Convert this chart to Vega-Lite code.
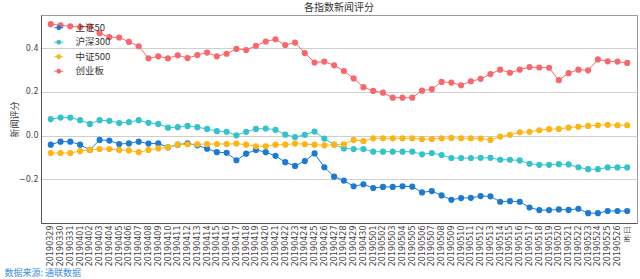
{
  "$schema": "https://vega.github.io/schema/vega-lite/v6.json",
  "width": 596,
  "height": 208,
  "padding": {"left": 41, "top": 15, "right": 3, "bottom": 56},
  "autosize": "none",
  "background": "white",
  "title": {"text": "各指数新闻评分", "fontSize": 10, "font": "Noto Sans CJK SC", "fontWeight": "normal", "color": "#333", "offset": 2, "anchor": "middle"},
  "config": {
    "view": {"stroke": "#999", "strokeWidth": 1},
    "font": "DejaVu Sans",
    "axis": {"labelFont": "DejaVu Sans", "labelColor": "#444", "titleFont": "Noto Sans CJK SC", "titleFontWeight": "normal"}
  },
  "data": {"values": [
{"d":"20190329","s":"上证50","v":-0.041},{"d":"20190330","s":"上证50","v":-0.027},{"d":"20190331","s":"上证50","v":-0.027},{"d":"20190401","s":"上证50","v":-0.041},{"d":"20190402","s":"上证50","v":-0.065},{"d":"20190403","s":"上证50","v":-0.019},{"d":"20190404","s":"上证50","v":-0.022},{"d":"20190405","s":"上证50","v":-0.038},{"d":"20190406","s":"上证50","v":-0.035},{"d":"20190407","s":"上证50","v":-0.027},
{"d":"20190408","s":"上证50","v":-0.036},{"d":"20190409","s":"上证50","v":-0.035},{"d":"20190410","s":"上证50","v":-0.053},{"d":"20190411","s":"上证50","v":-0.041},{"d":"20190412","s":"上证50","v":-0.035},{"d":"20190413","s":"上证50","v":-0.044},{"d":"20190414","s":"上证50","v":-0.059},{"d":"20190415","s":"上证50","v":-0.075},{"d":"20190416","s":"上证50","v":-0.078},{"d":"20190417","s":"上证50","v":-0.112},
{"d":"20190418","s":"上证50","v":-0.082},{"d":"20190419","s":"上证50","v":-0.065},{"d":"20190420","s":"上证50","v":-0.075},{"d":"20190421","s":"上证50","v":-0.092},{"d":"20190422","s":"上证50","v":-0.121},{"d":"20190423","s":"上证50","v":-0.138},{"d":"20190424","s":"上证50","v":-0.116},{"d":"20190425","s":"上证50","v":-0.081},{"d":"20190426","s":"上证50","v":-0.144},{"d":"20190427","s":"上证50","v":-0.187},
{"d":"20190428","s":"上证50","v":-0.205},{"d":"20190429","s":"上证50","v":-0.231},{"d":"20190430","s":"上证50","v":-0.222},{"d":"20190501","s":"上证50","v":-0.239},{"d":"20190502","s":"上证50","v":-0.234},{"d":"20190503","s":"上证50","v":-0.234},{"d":"20190504","s":"上证50","v":-0.231},{"d":"20190505","s":"上证50","v":-0.233},{"d":"20190506","s":"上证50","v":-0.259},{"d":"20190507","s":"上证50","v":-0.253},
{"d":"20190508","s":"上证50","v":-0.273},{"d":"20190509","s":"上证50","v":-0.293},{"d":"20190510","s":"上证50","v":-0.285},{"d":"20190511","s":"上证50","v":-0.284},{"d":"20190512","s":"上证50","v":-0.276},{"d":"20190513","s":"上证50","v":-0.277},{"d":"20190514","s":"上证50","v":-0.302},{"d":"20190515","s":"上证50","v":-0.299},{"d":"20190516","s":"上证50","v":-0.302},{"d":"20190517","s":"上证50","v":-0.328},
{"d":"20190518","s":"上证50","v":-0.340},{"d":"20190519","s":"上证50","v":-0.340},{"d":"20190520","s":"上证50","v":-0.337},{"d":"20190521","s":"上证50","v":-0.339},{"d":"20190522","s":"上证50","v":-0.334},{"d":"20190523","s":"上证50","v":-0.354},{"d":"20190524","s":"上证50","v":-0.354},{"d":"20190525","s":"上证50","v":-0.344},{"d":"20190526","s":"上证50","v":-0.344},{"d":"昨日","s":"上证50","v":-0.344},
{"d":"20190329","s":"沪深300","v":0.076},{"d":"20190330","s":"沪深300","v":0.083},{"d":"20190331","s":"沪深300","v":0.083},{"d":"20190401","s":"沪深300","v":0.071},{"d":"20190402","s":"沪深300","v":0.054},{"d":"20190403","s":"沪深300","v":0.071},{"d":"20190404","s":"沪深300","v":0.068},{"d":"20190405","s":"沪深300","v":0.058},{"d":"20190406","s":"沪深300","v":0.062},{"d":"20190407","s":"沪深300","v":0.071},
{"d":"20190408","s":"沪深300","v":0.059},{"d":"20190409","s":"沪深300","v":0.054},{"d":"20190410","s":"沪深300","v":0.037},{"d":"20190411","s":"沪深300","v":0.039},{"d":"20190412","s":"沪深300","v":0.045},{"d":"20190413","s":"沪深300","v":0.039},{"d":"20190414","s":"沪深300","v":0.031},{"d":"20190415","s":"沪深300","v":0.021},{"d":"20190416","s":"沪深300","v":0.018},{"d":"20190417","s":"沪深300","v":0.002},
{"d":"20190418","s":"沪深300","v":0.018},{"d":"20190419","s":"沪深300","v":0.031},{"d":"20190420","s":"沪深300","v":0.033},{"d":"20190421","s":"沪深300","v":0.027},{"d":"20190422","s":"沪深300","v":0.005},{"d":"20190423","s":"沪深300","v":-0.006},{"d":"20190424","s":"沪深300","v":0.004},{"d":"20190425","s":"沪深300","v":0.019},{"d":"20190426","s":"沪深300","v":-0.013},{"d":"20190427","s":"沪深300","v":-0.041},
{"d":"20190428","s":"沪深300","v":-0.058},{"d":"20190429","s":"沪深300","v":-0.061},{"d":"20190430","s":"沪深300","v":-0.061},{"d":"20190501","s":"沪深300","v":-0.073},{"d":"20190502","s":"沪深300","v":-0.073},{"d":"20190503","s":"沪深300","v":-0.073},{"d":"20190504","s":"沪深300","v":-0.073},{"d":"20190505","s":"沪深300","v":-0.073},{"d":"20190506","s":"沪深300","v":-0.085},{"d":"20190507","s":"沪深300","v":-0.079},
{"d":"20190508","s":"沪深300","v":-0.088},{"d":"20190509","s":"沪深300","v":-0.102},{"d":"20190510","s":"沪深300","v":-0.102},{"d":"20190511","s":"沪深300","v":-0.102},{"d":"20190512","s":"沪深300","v":-0.101},{"d":"20190513","s":"沪深300","v":-0.101},{"d":"20190514","s":"沪深300","v":-0.110},{"d":"20190515","s":"沪深300","v":-0.110},{"d":"20190516","s":"沪深300","v":-0.113},{"d":"20190517","s":"沪深300","v":-0.128},
{"d":"20190518","s":"沪深300","v":-0.133},{"d":"20190519","s":"沪深300","v":-0.133},{"d":"20190520","s":"沪深300","v":-0.130},{"d":"20190521","s":"沪深300","v":-0.131},{"d":"20190522","s":"沪深300","v":-0.144},{"d":"20190523","s":"沪深300","v":-0.153},{"d":"20190524","s":"沪深300","v":-0.153},{"d":"20190525","s":"沪深300","v":-0.145},{"d":"20190526","s":"沪深300","v":-0.145},{"d":"昨日","s":"沪深300","v":-0.145},
{"d":"20190329","s":"中证500","v":-0.079},{"d":"20190330","s":"中证500","v":-0.079},{"d":"20190331","s":"中证500","v":-0.079},{"d":"20190401","s":"中证500","v":-0.070},{"d":"20190402","s":"中证500","v":-0.065},{"d":"20190403","s":"中证500","v":-0.061},{"d":"20190404","s":"中证500","v":-0.061},{"d":"20190405","s":"中证500","v":-0.065},{"d":"20190406","s":"中证500","v":-0.067},{"d":"20190407","s":"中证500","v":-0.075},
{"d":"20190408","s":"中证500","v":-0.065},{"d":"20190409","s":"中证500","v":-0.058},{"d":"20190410","s":"中证500","v":-0.053},{"d":"20190411","s":"中证500","v":-0.041},{"d":"20190412","s":"中证500","v":-0.039},{"d":"20190413","s":"中证500","v":-0.039},{"d":"20190414","s":"中证500","v":-0.038},{"d":"20190415","s":"中证500","v":-0.038},{"d":"20190416","s":"中证500","v":-0.038},{"d":"20190417","s":"中证500","v":-0.036},
{"d":"20190418","s":"中证500","v":-0.041},{"d":"20190419","s":"中证500","v":-0.048},{"d":"20190420","s":"中证500","v":-0.048},{"d":"20190421","s":"中证500","v":-0.041},{"d":"20190422","s":"中证500","v":-0.041},{"d":"20190423","s":"中证500","v":-0.036},{"d":"20190424","s":"中证500","v":-0.039},{"d":"20190425","s":"中证500","v":-0.041},{"d":"20190426","s":"中证500","v":-0.044},{"d":"20190427","s":"中证500","v":-0.041},
{"d":"20190428","s":"中证500","v":-0.039},{"d":"20190429","s":"中证500","v":-0.019},{"d":"20190430","s":"中证500","v":-0.025},{"d":"20190501","s":"中证500","v":-0.012},{"d":"20190502","s":"中证500","v":-0.012},{"d":"20190503","s":"中证500","v":-0.012},{"d":"20190504","s":"中证500","v":-0.012},{"d":"20190505","s":"中证500","v":-0.012},{"d":"20190506","s":"中证500","v":-0.015},{"d":"20190507","s":"中证500","v":-0.015},
{"d":"20190508","s":"中证500","v":-0.012},{"d":"20190509","s":"中证500","v":-0.010},{"d":"20190510","s":"中证500","v":-0.012},{"d":"20190511","s":"中证500","v":-0.012},{"d":"20190512","s":"中证500","v":-0.013},{"d":"20190513","s":"中证500","v":-0.019},{"d":"20190514","s":"中证500","v":-0.004},{"d":"20190515","s":"中证500","v":0.004},{"d":"20190516","s":"中证500","v":0.016},{"d":"20190517","s":"中证500","v":0.018},
{"d":"20190518","s":"中证500","v":0.025},{"d":"20190519","s":"中证500","v":0.030},{"d":"20190520","s":"中证500","v":0.031},{"d":"20190521","s":"中证500","v":0.037},{"d":"20190522","s":"中证500","v":0.041},{"d":"20190523","s":"中证500","v":0.045},{"d":"20190524","s":"中证500","v":0.048},{"d":"20190525","s":"中证500","v":0.050},{"d":"20190526","s":"中证500","v":0.048},{"d":"昨日","s":"中证500","v":0.048},
{"d":"20190329","s":"创业板","v":0.510},{"d":"20190330","s":"创业板","v":0.505},{"d":"20190331","s":"创业板","v":0.500},{"d":"20190401","s":"创业板","v":0.497},{"d":"20190402","s":"创业板","v":0.500},{"d":"20190403","s":"创业板","v":0.469},{"d":"20190404","s":"创业板","v":0.451},{"d":"20190405","s":"创业板","v":0.449},{"d":"20190406","s":"创业板","v":0.429},{"d":"20190407","s":"创业板","v":0.409},
{"d":"20190408","s":"创业板","v":0.354},{"d":"20190409","s":"创业板","v":0.363},{"d":"20190410","s":"创业板","v":0.354},{"d":"20190411","s":"创业板","v":0.368},{"d":"20190412","s":"创业板","v":0.355},{"d":"20190413","s":"创业板","v":0.369},{"d":"20190414","s":"创业板","v":0.380},{"d":"20190415","s":"创业板","v":0.363},{"d":"20190416","s":"创业板","v":0.375},{"d":"20190417","s":"创业板","v":0.397},
{"d":"20190418","s":"创业板","v":0.392},{"d":"20190419","s":"创业板","v":0.411},{"d":"20190420","s":"创业板","v":0.431},{"d":"20190421","s":"创业板","v":0.441},{"d":"20190422","s":"创业板","v":0.415},{"d":"20190423","s":"创业板","v":0.426},{"d":"20190424","s":"创业板","v":0.378},{"d":"20190425","s":"创业板","v":0.335},{"d":"20190426","s":"创业板","v":0.339},{"d":"20190427","s":"创业板","v":0.322},
{"d":"20190428","s":"创业板","v":0.296},{"d":"20190429","s":"创业板","v":0.262},{"d":"20190430","s":"创业板","v":0.222},{"d":"20190501","s":"创业板","v":0.205},{"d":"20190502","s":"创业板","v":0.197},{"d":"20190503","s":"创业板","v":0.174},{"d":"20190504","s":"创业板","v":0.174},{"d":"20190505","s":"创业板","v":0.174},{"d":"20190506","s":"创业板","v":0.206},{"d":"20190507","s":"创业板","v":0.213},
{"d":"20190508","s":"创业板","v":0.246},{"d":"20190509","s":"创业板","v":0.243},{"d":"20190510","s":"创业板","v":0.231},{"d":"20190511","s":"创业板","v":0.249},{"d":"20190512","s":"创业板","v":0.260},{"d":"20190513","s":"创业板","v":0.282},{"d":"20190514","s":"创业板","v":0.302},{"d":"20190515","s":"创业板","v":0.288},{"d":"20190516","s":"创业板","v":0.302},{"d":"20190517","s":"创业板","v":0.314},
{"d":"20190518","s":"创业板","v":0.312},{"d":"20190519","s":"创业板","v":0.311},{"d":"20190520","s":"创业板","v":0.254},{"d":"20190521","s":"创业板","v":0.286},{"d":"20190522","s":"创业板","v":0.302},{"d":"20190523","s":"创业板","v":0.299},{"d":"20190524","s":"创业板","v":0.349},{"d":"20190525","s":"创业板","v":0.340},{"d":"20190526","s":"创业板","v":0.339},{"d":"昨日","s":"创业板","v":0.333}
  ]},
  "encoding": {
    "x": {"field": "d", "type": "ordinal", "sort": null,
      "scale": {"type": "point", "padding": 2.9},
      "axis": {"labelAngle": 270, "labelFontSize": 8, "labelPadding": 2, "ticks": false, "domain": true, "domainColor": "#555", "grid": false,
        "title": "数据来源: 通联数据", "titleAnchor": "start", "titleAlign": "left", "titleBaseline": "middle", "titleX": -37, "titleY": 49,
        "titleColor": "#3b8de0", "titleFontSize": 9, "labelOverlap": false}},
    "y": {"field": "v", "type": "quantitative",
      "scale": {"domain": [-0.399, 0.552], "nice": false, "zero": false},
      "axis": {"values": [-0.2, 0.0, 0.2, 0.4], "format": ".1f", "labelFontSize": 8, "ticks": false, "labelPadding": 3,
        "domainColor": "#555", "grid": true, "gridColor": "#cfcfcf",
        "title": "新闻评分", "titleFontSize": 9, "titleColor": "#333", "titleX": -27, "titleY": 104, "titleAngle": 270, "titleAlign": "center", "titleBaseline": "middle"}},
    "color": {"field": "s", "type": "nominal",
      "scale": {"domain": ["上证50", "沪深300", "中证500", "创业板"], "range": ["#1b7bd4", "#34c3cb", "#fdb515", "#f7676c"]},
      "legend": {"title": null, "orient": "none", "legendX": 11, "legendY": 6, "labelFontSize": 9.5, "labelFont": "Noto Sans CJK SC", "labelColor": "#333",
        "symbolType": "M-1.5,0H1.5M0.6,0A0.6,0.6,0,1,1,-0.6,0A0.6,0.6,0,1,1,0.6,0", "symbolSize": 36, "symbolStrokeWidth": 1.2, "labelOffset": 12, "rowPadding": 3.5, "padding": 2}}
  },
  "layer": [
    {"mark": {"type": "line", "strokeWidth": 1, "point": {"filled": true, "size": 38, "opacity": 1}}}
  ]
}
